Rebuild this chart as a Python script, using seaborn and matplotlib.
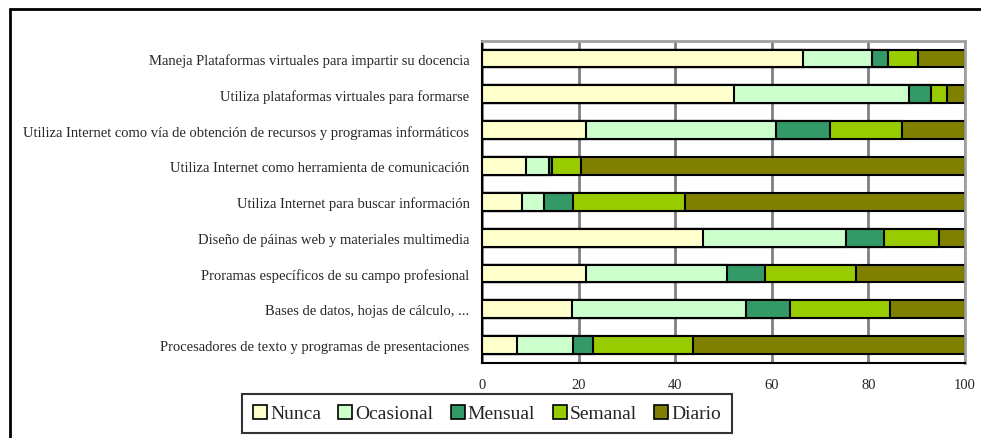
import numpy as np
import pandas as pd
import matplotlib.pyplot as plt
import seaborn as sns
from matplotlib.patches import Patch
from matplotlib.lines import Line2D
from matplotlib.ticker import FixedLocator

# Categories (top to bottom) and percentage per frequency level
categories = [
    'Maneja Plataformas virtuales para impartir su docencia',
    'Utiliza plataformas virtuales para formarse',
    'Utiliza Internet como vía de obtención de recursos y programas informáticos',
    'Utiliza Internet como herramienta de comunicación',
    'Utiliza Internet para buscar información',
    'Diseño de páinas web y materiales multimedia',
    'Proramas específicos de su campo profesional',
    'Bases de datos, hojas de cálculo, ...',
    'Procesadores de texto y programas de presentaciones',
]
nunca = [66.5, 52.2, 21.6, 9.1, 8.2, 45.8, 21.6, 18.6, 7.3]
ocasional = [14.2, 36.3, 39.3, 4.8, 4.7, 29.5, 29.1, 36.1, 11.5]
mensual = [3.4, 4.4, 11.1, 0.5, 5.9, 7.9, 7.9, 9.1, 4.1]
semanal = [6.1, 3.3, 15.0, 6.0, 23.2, 11.4, 18.9, 20.7, 20.8]
diario = [9.8, 3.8, 13.0, 79.6, 58.0, 5.4, 22.5, 15.5, 56.3]

levels = ['Nunca', 'Ocasional', 'Mensual', 'Semanal', 'Diario']
colors = ['#FFFFCC', '#CCFFCC', '#339966', '#99CC00', '#808000']
x_ticks = [0, 20, 40, 60, 80, 100]

df = pd.DataFrame({'Nunca': nunca, 'Ocasional': ocasional, 'Mensual': mensual,
                   'Semanal': semanal, 'Diario': diario}, index=categories)
cum = df.cumsum(axis=1)

sns.set_style("white")
plt.rcParams['font.family'] = ['Liberation Serif', 'DejaVu Serif']

fig = plt.figure(figsize=(9.81, 4.39), dpi=100)
ax = fig.add_axes([0.4913, 0.1708, 0.4924, 0.7344])

# stacked bars: draw cumulative totals from the longest down
for level, color in reversed(list(zip(levels, colors))):
    sns.barplot(x=cum[level].values, y=categories, orient='h', color=color,
                saturation=1, edgecolor='black', linewidth=1.5, width=0.5, ax=ax)

ax.set_xlim(0, 100)
ax.set_ylim(len(categories) - 0.5, -0.5)
ax.set_xticks(x_ticks)
ax.set_xlabel('')
ax.set_ylabel('')
ax.tick_params(axis='x', labelsize=10.5, length=4, width=1.5, pad=7, color='black', direction='out')
ax.tick_params(axis='y', which='major', labelsize=10.5, length=0, pad=9)
ax.yaxis.set_minor_locator(FixedLocator(np.arange(-0.5, len(categories), 1.0)))
ax.tick_params(axis='y', which='minor', length=5, width=1.5, color='black', direction='out')

ax.xaxis.grid(True, color='#808080', linewidth=2)
ax.set_axisbelow(True)
for side in ['left', 'bottom']:
    ax.spines[side].set_color('black')
    ax.spines[side].set_linewidth(1.5)
for side in ['top', 'right']:
    ax.spines[side].set_color('#A0A0A0')
    ax.spines[side].set_linewidth(2)

handles = [Patch(facecolor=c, edgecolor='black', linewidth=1.2) for c in colors]
leg = fig.legend(handles, levels, loc='center', bbox_to_anchor=(0.4964, 0.0558), ncol=5,
                 fontsize=14, frameon=True, fancybox=False, edgecolor='black',
                 handlelength=0.72, handleheight=0.72, handletextpad=0.15,
                 columnspacing=0.9, borderpad=0.55)
leg.get_frame().set_linewidth(1.5)

# chart area border (left and top visible)
fig.add_artist(Line2D([0.0102, 0.0102], [0.0, 0.978], transform=fig.transFigure, color='black', lw=2))
fig.add_artist(Line2D([0.0102, 1.0], [0.978, 0.978], transform=fig.transFigure, color='black', lw=2))

fig.savefig('out.png', dpi=100)
